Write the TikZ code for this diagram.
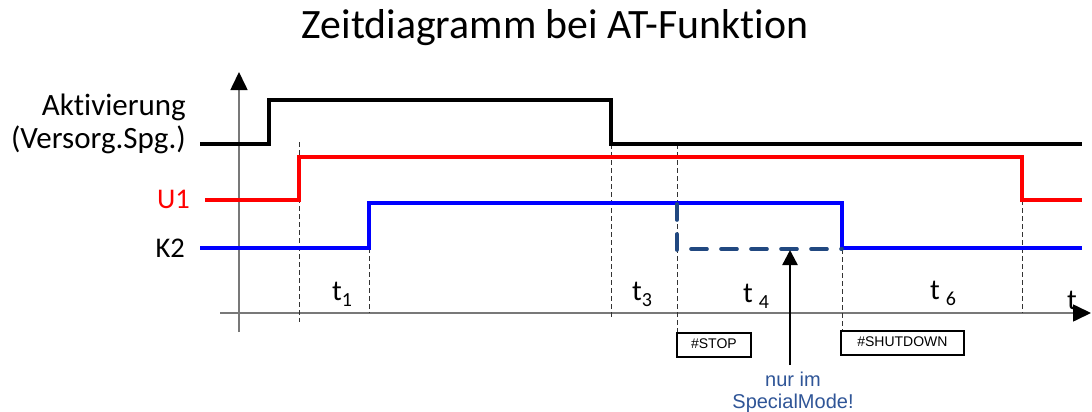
\documentclass[tikz,border=0pt]{standalone}
\usepackage{fontspec}
\setmainfont{Carlito}[Ligatures=NoCommon]
\newfontfamily\arialf{Liberation Sans}
\usetikzlibrary{arrows.meta}

\definecolor{sigred}{RGB}{255,0,0}
\definecolor{sigblue}{RGB}{0,0,255}
\definecolor{darkdash}{RGB}{33,72,128}
\definecolor{notecol}{RGB}{47,85,151}
\definecolor{axisgray}{RGB}{120,120,120}

\tikzset{
  signal/.style={line width=3.6pt, line join=miter},
  guide/.style={line width=0.9pt, dash pattern=on 5pt off 3pt, black!80},
  axisline/.style={line width=1.6pt, axisgray},
  axistip/.style={-{Triangle[width=17pt,length=18pt,fill=black,color=black]}},
  lbl/.style={inner sep=0pt, anchor=base east, font=\fontsize{31}{31}\selectfont},
  tlbl/.style={inner sep=0pt, anchor=base west, font=\fontsize{29}{29}\selectfont},
  cmdbox/.style={draw, line width=1.8pt, inner sep=0pt, minimum height=24pt,
                 font=\arialf\fontsize{14}{14}\selectfont},
  kdash/.style={line width=3.6pt, darkdash, line cap=round, dash pattern=on 16pt off 14pt},
}
\newcommand{\sub}[1]{\raisebox{-6pt}{\fontsize{20}{20}\selectfont #1}}

\begin{document}
\begin{tikzpicture}[x=1pt,y=-1pt]
\useasboundingbox (0,0) rectangle (1092,412);

% title
\node[inner sep=0pt, anchor=base, font=\fontsize{41.8}{41.8}\selectfont] (title) at (555,39) {Zeitdiagramm bei AT-Funktion};

% axes
\coordinate (yb) at (239,332);
\coordinate (yt) at (239,72);
\coordinate (xl) at (220,313);
\coordinate (xr) at (1091,313);
\draw[axisline, axistip] (yb) -- (yt);
\draw[axisline, axistip] (xl) -- (xr);

% signal names
\node[lbl] (akt) at (186,115) {Aktivierung};
\node[lbl] (vers) at (186,148) {(Versorg.Spg.)};
\node[lbl, text=sigred, font=\fontsize{28.5}{28.5}\selectfont] (u1) at (190,208) {U1};
\node[lbl, font=\fontsize{28.5}{28.5}\selectfont] (k2) at (185,257) {K2};

% guide lines
\coordinate (g1a) at (299,142); \coordinate (g1b) at (299,322);
\coordinate (g2a) at (369,248); \coordinate (g2b) at (369,313);
\coordinate (g3a) at (611,144); \coordinate (g3b) at (611,318);
\coordinate (g4a) at (677,144);
\coordinate (g5a) at (842,249);
\coordinate (g6a) at (1022,200); \coordinate (g6b) at (1022,313);
\draw[guide] (g1a) -- (g1b);
\draw[guide] (g2a) -- (g2b);
\draw[guide] (g3a) -- (g3b);
\draw[guide] (g6a) -- (g6b);

% command boxes
\node[cmdbox, minimum width=74pt, anchor=north west] (stop) at (676,332) {\raisebox{2pt}{\#STOP}};
\node[cmdbox, minimum width=123pt, anchor=north west] (shut) at (840,330) {\raisebox{2pt}{\#SHUTDOWN}};
\draw[guide] (g4a) -- (stop.north west -| g4a);
\draw[guide] (g5a) -- (shut.north west -| g5a);

% supply signal
\draw[signal] (200,144) -- (269,144) -- (269,100) -- (611,100) -- (611,144) -- (1082,144);
% U1
\draw[signal, sigred] (205,200) -- (299,200) -- (299,157) -- (1022,157) -- (1022,200) -- (1082,200);
% K2
\draw[signal, sigblue] (200,248) -- (369,248) -- (369,203) -- (842,203) -- (842,248) -- (1082,248);
% K2 in special mode
\draw[kdash] (677,204) -- (677,250);
\draw[kdash] (691,249) -- (842,249);

% time labels
\node[tlbl] (t1) at (332,300) {t\sub{1}};
\node[tlbl] (t3) at (632,300) {t\sub{3}};
\node[tlbl] (t4) at (743,302) {t\hspace{6pt}\sub{4}};
\node[tlbl] (t6) at (930,299) {t\hspace{6pt}\sub{6}};
\node[tlbl] (tt) at (1067,309) {t};

% special mode note
\node[inner sep=0pt, text=notecol, align=center, font=\arialf\fontsize{20}{22}\selectfont,
      anchor=base] (note) at (793,408) {nur im\\SpecialMode!};
\coordinate (arrtip) at (790,250);
\draw[line width=2.4pt, -{Triangle[width=15pt,length=15pt]}] (790,365) -- (arrtip);
\end{tikzpicture}
\end{document}
